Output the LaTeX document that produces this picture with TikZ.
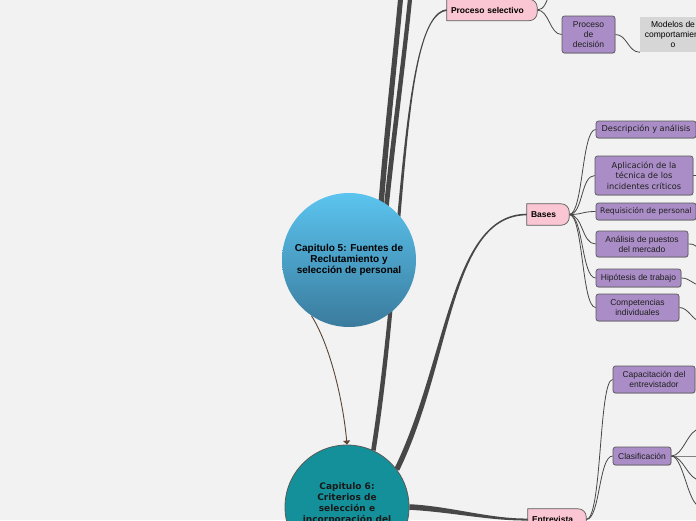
\documentclass[tikz,border=0pt]{standalone}
\usepackage{fontspec}
\setmainfont{Liberation Sans}
\newfontfamily\djsans{DejaVu Sans}
\usetikzlibrary{calc,shadows,arrows.meta}
\definecolor{bgc}{HTML}{F2F2F2}
\definecolor{pinkfill}{HTML}{FBC6D3}
\definecolor{purpfill}{HTML}{AA8DC6}
\definecolor{boxline}{HTML}{5A5A5A}
\definecolor{linecol}{HTML}{474747}
\definecolor{graybox}{HTML}{D6D6D6}
\definecolor{teal6}{HTML}{13909A}
\definecolor{browna}{HTML}{5A4535}
\definecolor{bluetop}{HTML}{5BC4EF}
\definecolor{bluebot}{HTML}{3A7B9D}
\pgfdeclarelayer{bglayer}
\pgfdeclarelayer{edges}
\pgfdeclarelayer{shapes}
\pgfsetlayers{bglayer,edges,shapes,main}
% tapered branch: P0, P1, P2, P3, half width at start, half width at end
\newcommand\tpr[6]{\fill[linecol] ($#1!#5!90:#2$) .. controls ($#2!#5!-90:#1$) and ($#3!#6!90:#4$) .. ($#4!#6!-90:#3$) -- ($#4!#6!90:#3$) .. controls ($#3!#6!-90:#4$) and ($#2!#5!90:#1$) .. ($#1!#5!-90:#2$) -- cycle;}
\newcommand\pinkshape[1]{\begin{pgfonlayer}{shapes}\draw[draw=boxline, fill=pinkfill, line width=0.7pt] (#1.south west) -- (#1.north west) -- ([xshift=-8pt]#1.north east) arc[start angle=90,end angle=0,radius=8pt] -- ([yshift=8pt]#1.south east) arc[start angle=0,end angle=-90,radius=8pt] -- cycle;\end{pgfonlayer}}
\begin{document}
\begin{tikzpicture}[x=1pt,y=-1pt,
 purp/.style={draw=boxline, fill=purpfill, rounded corners=2.5pt, line width=0.7pt, inner sep=0pt, align=center, text=black!88, font=\fontsize{8.5}{10}\selectfont, drop shadow={shadow xshift=0.5pt, shadow yshift=-0.8pt, opacity=0.3}},
 pinkn/.style={inner xsep=4pt, inner ysep=0pt, minimum height=21pt, align=left, font=\bfseries\fontsize{8.5}{10}\selectfont, text=black},
 conn/.style={draw=linecol, line width=0.8pt},
]
\useasboundingbox (0,0) rectangle (696,520);
\begin{pgfonlayer}{bglayer}\fill[bgc] (0,0) rectangle (696,520);\end{pgfonlayer}

% main circles
\node[circle, minimum size=134pt, inner sep=0pt, top color=bluetop, bottom color=bluebot, align=center, font=\bfseries\fontsize{10}{11.2}\selectfont] (c5) at (349,260) {Capitulo 5: Fuentes de\\Reclutamiento y\\selección de personal};
\node[circle, minimum size=124pt, inner sep=0pt, fill=teal6, draw=boxline, line width=0.8pt] (c6) at (347,507) {};
\node[anchor=north, inner sep=0pt, align=center, font=\djsans\bfseries\fontsize{9}{11.3}\selectfont, text=black!90] (c6t) at (347,482) {Capitulo 6:\\Criterios de\\selección e\\incorporación del};

% pink nodes
\node[pinkn, text width=82pt] (ps) at (492,10) {Proceso selectivo};
\pinkshape{ps}
\node[pinkn, text width=34pt] (bases) at (548,214.5) {Bases};
\pinkshape{bases}
\node[pinkn, text width=50pt] (ent) at (557,519.5) {Entrevista};
\pinkshape{ent}

% purple and gray nodes
\node[purp, minimum width=53pt, minimum height=37pt] (pd) at (588.5,34.5) {Proceso\\de\\decisión};
\node[fill=graybox, inner sep=0pt, minimum width=66pt, minimum height=35pt, align=center, font=\fontsize{8.5}{10}\selectfont] (mod) at (673,34.5) {Modelos de\\comportamient\\o};
\node[purp, font=\djsans\fontsize{8.2}{10}\selectfont, minimum width=100pt, minimum height=17pt] (da) at (646,129.5) {Descripción y análisis};
\node[purp, font=\djsans\fontsize{8.2}{10.5}\selectfont, minimum width=98pt, minimum height=39pt] (ap) at (644,175.5) {Aplicación de la\\técnica de los\\incidentes críticos};
\node[purp, font=\djsans\fontsize{7.7}{10}\selectfont, minimum width=100pt, minimum height=17pt] (rp) at (646,211.5) {Requisición de personal};
\node[purp, minimum width=92pt, minimum height=26pt] (am) at (642,244) {Análisis de puestos\\del mercado};
\node[purp, minimum width=85pt, minimum height=18pt] (ht) at (638.5,278) {Hipótesis de trabajo};
\node[purp, minimum width=83pt, minimum height=27pt] (ci) at (637.5,307.5) {Competencias\\individuales};
\node[purp, minimum width=82pt, minimum height=27pt] (cap) at (654,379.5) {Capacitación del\\entrevistador};
\node[purp, minimum width=58pt, minimum height=18pt] (cla) at (642,456) {Clasificación};

% free ends
\coordinate (psup) at (549,-6);
\coordinate (t1) at (401,-6);
\coordinate (t2) at (410.5,-6);
\coordinate (apx) at (700,175.5);
\coordinate (amx) at (700,247);
\coordinate (htx) at (700,285);
\coordinate (cix) at (700,321);
\coordinate (clx1) at (700,429);
\coordinate (clx2) at (700,456);
\coordinate (clx3) at (700,480);
\coordinate (clx4) at (700,506);

\begin{pgfonlayer}{edges}
\tpr{([yshift=-10pt]c5.62)}{(386,140)}{(395,60)}{(t1)}{2.7pt}{2.5pt}
\tpr{([yshift=-10pt]c5.57)}{(393,140)}{(404,60)}{(t2)}{2.4pt}{2.1pt}
\tpr{(c6.65)}{(405,250)}{(400,15)}{(ps.west)}{2.3pt}{0.8pt}
\tpr{(c6.37)}{(450,360)}{(450,215)}{(bases.west)}{2.6pt}{0.8pt}
\tpr{(c6.0)}{(450,509)}{(490,520)}{(ent.west)}{2.8pt}{1pt}

\draw[conn] (ps.east) .. controls +(12,0) and +(-12,0) .. (pd.west);
\draw[conn] (ps.east) .. controls +(7,0) and +(-2,7) .. (psup);
\draw[conn] (pd.east) .. controls +(12,0) and +(-12,0) .. (mod.south west);
\foreach \n in {da,ap,rp,am,ht,ci} \draw[conn] (bases.east) .. controls +(14,0) and +(-14,0) .. (\n.west);
\draw[conn] (ap.east) -- (apx);
\foreach \n/\m in {am/amx, ht/htx, ci/cix} \draw[conn] (\n.east) .. controls +(9,0) and +(-7,0) .. (\m);
\draw[conn] (ent.east) .. controls +(16,0) and +(-14,0) .. (cap.west);
\draw[conn] (ent.east) .. controls +(14,0) and +(-14,0) .. (cla.west);
\foreach \m in {clx1,clx2,clx3,clx4} \draw[conn] (cla.east) .. controls +(12,0) and +(-12,0) .. (\m);
\draw[browna, line width=0.9pt, -{Triangle[width=7pt,length=4pt]}] (c5.236) .. controls (330,345) and (343,400) .. (c6.north);
\end{pgfonlayer}
\end{tikzpicture}
\end{document}
